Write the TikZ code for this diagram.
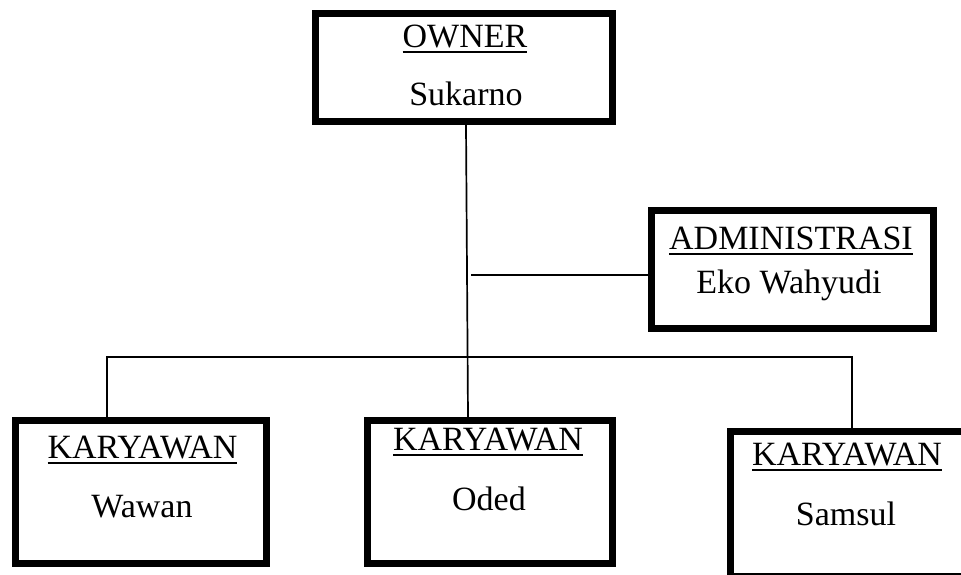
\documentclass[tikz,border=0pt]{standalone}
\usepackage{fontspec}
\setmainfont{Liberation Serif}
\newcommand{\myul}[1]{\setbox0\hbox{#1}\rlap{\rule[-6pt]{\wd0}{1.7pt}}\box0}
\tikzset{
  box/.style={draw, line width=7pt, inner sep=0pt},
  conn/.style={line width=1.7pt},
  lbl/.style={anchor=base, inner sep=0pt, font=\fontsize{34}{40}\selectfont},
}
\begin{document}
\begin{tikzpicture}[x=1pt, y=-1pt]
\clip (0,0) rectangle (961,574);
\fill[white] (0,0) rectangle (961,574);
% boxes
\node[box, minimum width=297pt, minimum height=108pt] (owner) at (464,67.5) {};
\node[box, minimum width=282pt, minimum height=118pt] (admin) at (792.5,269.5) {};
\node[box, minimum width=251pt, minimum height=143pt] (wawan) at (141,492) {};
\node[box, minimum width=245pt, minimum height=143pt] (oded) at (490,492) {};
\node[box, minimum width=244.5pt, minimum height=145pt] (samsul) at (852.75,504) {};
% texts
\node[lbl] (t1) at (465,47) {\myul{OWNER}};
\node[lbl] (t2) at (466,105) {Sukarno};
\node[lbl] (t3) at (791,249) {\myul{ADMINISTRASI}};
\node[lbl] (t4) at (789,293) {Eko Wahyudi};
\node[lbl] (t5) at (142.5,458) {\myul{KARYAWAN}};
\node[lbl] (t6) at (142,517) {Wawan};
\node[lbl] (t7) at (488,450) {\myul{KARYAWAN}};
\node[lbl] (t8) at (489,510) {Oded};
\node[lbl] (t9) at (847,465) {\myul{KARYAWAN}};
\node[lbl] (t10) at (846,525) {Samsul};
% connectors
\coordinate (spinetop) at (466,0);
\coordinate (spinebot) at (468,0);
\draw[conn] (owner.south -| spinetop) -- (oded.north -| spinebot);
\coordinate (adm) at (471,275);
\draw[conn] (adm) -- (admin.west |- adm);
\coordinate (busL) at (107,357);
\coordinate (busR) at (852,357);
\draw[conn] (wawan.north -| busL) -- (busL) -- (busR) -- (samsul.north -| busR);
\end{tikzpicture}
\end{document}
